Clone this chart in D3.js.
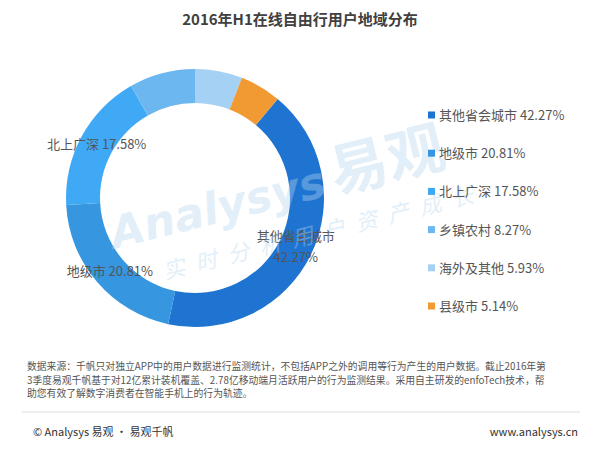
<!DOCTYPE html>
<html>
<head>
<meta charset="utf-8">
<script src="https://d3js.org/d3.v7.min.js"></script>
<style>
    body { margin: 0; background: #fff; }
    svg { display: block; font-family: "Noto Sans CJK SC", "Noto Sans", sans-serif; }
</style>
</head>
<body>
<svg id="main"></svg>
<script>
    // values, in legend order
    const categories = ["其他省会城市", "地级市", "北上广深", "乡镇农村", "海外及其他", "县级市"]
    const shares = [42.27, 20.81, 17.58, 8.27, 5.93, 5.14]
    const colors = ["#1e74d0", "#3796e0", "#3fa9f5", "#6cb7f0", "#a5d1f5", "#f19a33"]
    // only these get a label on the ring
    const ringLabels = ["其他省会城市", "地级市", "北上广深"]

    const title = "2016年H1在线自由行用户地域分布"
    const sourceLines = [
        "数据来源：千帆只对独立APP中的用户数据进行监测统计，不包括APP之外的调用等行为产生的用户数据。截止2016年第",
        "3季度易观千帆基于对12亿累计装机覆盖、2.78亿移动端月活跃用户的行为监测结果。采用自主研发的enfoTech技术，帮",
        "助您有效了解数字消费者在智能手机上的行为轨迹。"
    ]

    let width = 600,
        height = 450

    let svg = d3.select("#main")
        .attr("width", width)
        .attr("height", height)

    svg.append("text")
        .attr("x", width / 2)
        .attr("y", 25)
        .attr("text-anchor", "middle")
        .attr("font-size", 15)
        .attr("font-weight", "bold")
        .attr("fill", "#404040")
        .text(title)

    // donut
    let cx = 195, cy = 198,
        outerR = 129, innerR = 95

    // first slice starts after the last two (they sit just right of 12 o'clock)
    let start = d3.sum(shares.slice(4)) / 100 * 2 * Math.PI

    let pie = d3.pie()
        .sort(null)
        .value(d => d.value)
        .startAngle(start)
        .endAngle(start + 2 * Math.PI)

    let data = categories.map((c, i) => ({ name: c, value: shares[i], color: colors[i] }))
    let arcs = pie(data)

    let arc = d3.arc().innerRadius(innerR).outerRadius(outerR)

    let donut = svg.append("g").attr("transform", `translate(${cx},${cy})`)

    donut.selectAll("path")
        .data(arcs)
        .enter()
        .append("path")
        .attr("d", arc)
        .attr("fill", d => d.data.color)

    // ring labels at the middle of the ring
    let labelArc = d3.arc().innerRadius(112).outerRadius(112)

    donut.selectAll("text.lbl")
        .data(arcs.filter(d => ringLabels.includes(d.data.name)))
        .enter()
        .append("text")
        .attr("class", "lbl")
        .attr("font-size", 13)
        .attr("fill", "#555")
        .attr("text-anchor", "middle")
        .each(function (d) {
            let t = d3.select(this)
            let pct = d3.format(".2f")(d.data.value) + "%"
            let p = labelArc.centroid(d)
            if (d.data.name.length > 4) {
                // long name wraps to two lines
                t.append("tspan").attr("x", p[0]).attr("y", p[1] - 6).text(d.data.name)
                t.append("tspan").attr("x", p[0]).attr("y", p[1] + 15).text(pct)
            } else {
                t.attr("x", p[0]).attr("y", p[1] + 5).text(d.data.name + " " + pct)
            }
        })

    // watermark
    let wm = svg.append("g")
        .attr("transform", "translate(113,243) rotate(-14)")
        .attr("fill", "#b5d6f0")
        .attr("opacity", 0.38)
    wm.append("text")
        .attr("x", 0).attr("y", 6)
        .attr("font-family", "'DejaVu Sans', sans-serif")
        .attr("font-size", 44)
        .attr("font-weight", "bold")
        .attr("font-style", "italic")
        .text("Analysys")
    wm.append("text")
        .attr("x", 228).attr("y", 6)
        .attr("font-size", 58)
        .attr("font-weight", "bold")
        .text("易观")
    wm.append("text")
        .attr("x", 42).attr("y", 48)
        .attr("font-size", 22)
        .attr("font-style", "italic")
        .attr("letter-spacing", 11)
        .text("实时分析用户资产成长")

    // legend
    let legend = svg.append("g")
        .selectAll("g")
        .data(data)
        .enter()
        .append("g")
        .attr("transform", (d, i) => `translate(428,${115 + i * 38.2})`)

    legend.append("rect")
        .attr("x", 0).attr("y", -3.5)
        .attr("width", 7).attr("height", 7)
        .attr("fill", d => d.color)

    legend.append("text")
        .attr("x", 11).attr("y", 5)
        .attr("font-size", 13)
        .attr("fill", "#555")
        .text(d => d.name + " " + d3.format(".2f")(d.value) + "%")

    // source note and footer
    svg.append("g")
        .selectAll("text")
        .data(sourceLines)
        .enter()
        .append("text")
        .attr("x", 27)
        .attr("y", (d, i) => 370 + i * 13.5)
        .attr("font-size", 9.8)
        .attr("fill", "#555")
        .text(d => d)

    svg.append("line")
        .attr("x1", 22).attr("x2", 580)
        .attr("y1", 412).attr("y2", 412)
        .attr("stroke", "#ddd")

    svg.append("text")
        .attr("x", 33).attr("y", 436)
        .attr("font-size", 11)
        .attr("fill", "#333")
        .text("© Analysys 易观 · 易观千帆")

    svg.append("text")
        .attr("x", 578).attr("y", 436)
        .attr("text-anchor", "end")
        .attr("font-size", 11)
        .attr("fill", "#333")
        .text("www.analysys.cn")
</script>
</body>
</html>
